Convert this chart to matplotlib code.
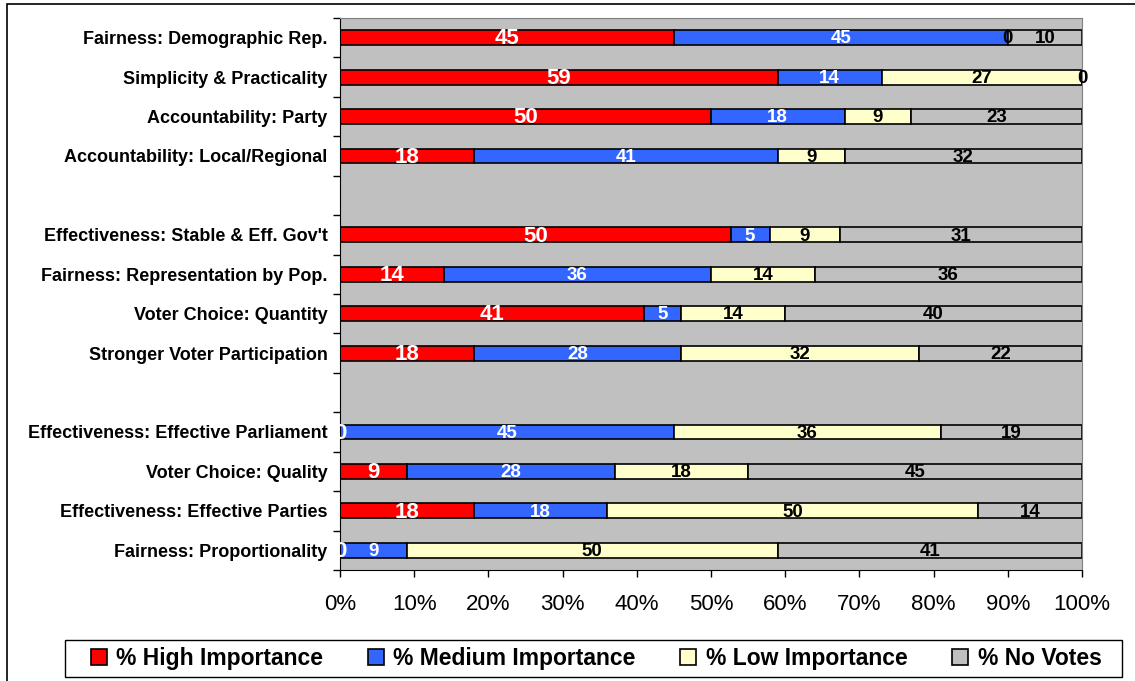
import matplotlib
matplotlib.use("Agg")
import matplotlib.pyplot as plt
from matplotlib.patches import Rectangle
import numpy as np

plt.rcParams["font.family"] = ["Liberation Sans", "DejaVu Sans"]

# criteria, grouped top to bottom (a blank row separates each group)
groups = [
    ["Fairness: Demographic Rep.",
     "Simplicity & Practicality",
     "Accountability: Party",
     "Accountability: Local/Regional"],
    ["Effectiveness: Stable & Eff. Gov't",
     "Fairness: Representation by Pop.",
     "Voter Choice: Quantity",
     "Stronger Voter Participation"],
    ["Effectiveness: Effective Parliament",
     "Voter Choice: Quality",
     "Effectiveness: Effective Parties",
     "Fairness: Proportionality"],
]

high = [45, 59, 50, 18, 50, 14, 41, 18, 0, 9, 18, 0]
medium = [45, 14, 18, 41, 5, 36, 5, 28, 45, 28, 18, 9]
low = [0, 27, 9, 9, 9, 14, 14, 32, 36, 18, 50, 50]
no_votes = [10, 0, 23, 32, 31, 36, 40, 22, 19, 45, 14, 41]

series_names = ["% High Importance", "% Medium Importance",
                "% Low Importance", "% No Votes"]
colors = ["#FF0000", "#3366FF", "#FFFFCC", "#C0C0C0"]
label_colors = ["white", "white", "black", "black"]
label_sizes = [16, 13.5, 13.5, 13.5]

# row positions with a gap between groups
labels = []
rows = []
r = 0
for g in groups:
    for name in g:
        labels.append(name)
        rows.append(r)
        r += 1
    r += 1
rows = np.array(rows)
last = rows[-1]

vals = np.array([high, medium, low, no_votes], dtype=float)
shares = vals / vals.sum(axis=0) * 100  # 100% stacked

fig = plt.figure(figsize=(11.35, 6.81), dpi=100)
ax = fig.add_axes([340 / 1135, 1 - 570 / 681, 742 / 1135, 552 / 681])
ax.set_facecolor("#C0C0C0")

left = np.zeros(len(rows))
for k in range(4):
    ax.barh(rows, shares[k], left=left, height=0.38, color=colors[k],
            edgecolor="black", linewidth=1.2, label=series_names[k], zorder=2)
    for i in range(len(rows)):
        ax.text(left[i] + shares[k][i] / 2, rows[i] + 0.03, "%d" % vals[k][i],
                ha="center", va="center", color=label_colors[k],
                fontsize=label_sizes[k], fontweight="bold", zorder=3,
                clip_on=False)
    left += shares[k]

ax.set_xlim(0, 100)
ax.set_ylim(last + 0.5, -0.5)
ax.set_xticks(np.arange(0, 101, 10))
ax.set_xticklabels(["%d%%" % t for t in range(0, 101, 10)], fontsize=16)
ax.tick_params(axis="x", direction="out", length=5, width=1, pad=12)

ax.set_yticks(rows)
ax.set_yticklabels(labels, fontsize=13, fontweight="bold")
ax.set_yticks(np.arange(-0.5, last + 1, 1), minor=True)
ax.tick_params(axis="y", which="major", length=0, pad=9)
ax.tick_params(axis="y", which="minor", direction="out", length=5, width=1)

for side in ["top", "right"]:
    ax.spines[side].set_color("#808080")
ax.spines["left"].set_color("black")
ax.spines["bottom"].set_color("black")

# legend entries spread inside a separately drawn box
fig.legend(loc="lower left", ncol=4, mode="expand",
           bbox_to_anchor=(86 / 1135, 1 - 675 / 681, 1020 / 1135, 33 / 681),
           borderaxespad=0, prop={"size": 16.5, "weight": "bold"},
           frameon=False, handlelength=0.7, handleheight=0.7,
           handletextpad=0.4, borderpad=0.2)
fig.add_artist(Rectangle((65 / 1135, 1 - 677 / 681), 1057 / 1135, 37 / 681,
                         transform=fig.transFigure, fill=False,
                         edgecolor="black", linewidth=1.0))

# outer chart border
fig.add_artist(Rectangle((7 / 1135, -0.1), 1.2, 1.1 - 4 / 681,
                         transform=fig.transFigure, fill=False,
                         edgecolor="black", linewidth=1.2))

fig.savefig("out.png", dpi=100)
